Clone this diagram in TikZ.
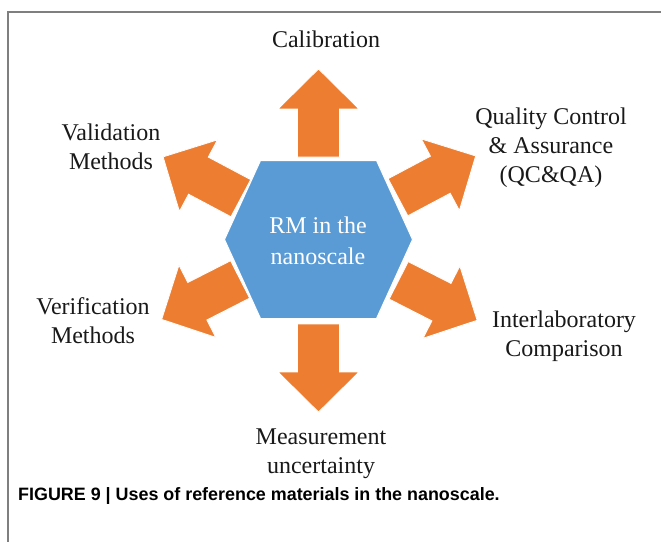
\documentclass[tikz,border=0pt]{standalone}
\usepackage{fontspec}
\usetikzlibrary{calc}
\setmainfont{Liberation Serif}
\newfontfamily\capfont{Liberation Sans}
\definecolor{hexblue}{HTML}{5B9BD5}
\definecolor{arroworange}{HTML}{ED7D31}
\definecolor{framegray}{HTML}{7F7F7F}
\begin{document}
\begin{tikzpicture}[x=1pt,y=1pt,
  blockarrow/.style={fill=arroworange, draw=white, line width=0.8pt, line join=miter},
  hexshape/.style={fill=hexblue, draw=white, line width=1pt, line join=miter},
  lbl/.style={align=center, inner sep=0pt, text=black!90, font=\fontsize{24}{29}\selectfont},
]
\useasboundingbox (0,0) rectangle (661,542);

% frame along the top and left edges
\draw[framegray, line width=1.8pt] (661,530) -- (8,530) -- (8,0);

% central hexagon
\coordinate (c) at (318.5,302.5);
\path[hexshape] ($(c)+(-94,0)$) -- ($(c)+(-58,79)$) -- ($(c)+(58,79)$)
  -- ($(c)+(94,0)$) -- ($(c)+(58,-79)$) -- ($(c)+(-58,-79)$) -- cycle;
\node[lbl, text=white, font=\fontsize{24}{31}\selectfont] (core) at (318,301.5) {RM in the\\nanoscale};

% six block arrows radiating from the hexagon (angle / start radius)
\foreach \ang/\r in {90/82.5, 28/90, -27/90, -90/84.5, 207/88, 152/88} {
  \begin{scope}[shift={(c)}, rotate=\ang]
    \path[blockarrow] (\r,-21) -- (\r+48,-21) -- (\r+48,-40.5) -- (\r+88,0)
      -- (\r+48,40.5) -- (\r+48,21) -- (\r,21) -- cycle;
  \end{scope}
}

% labels
\node[lbl, anchor=base] (calib) at (326,494) {Calibration};
\node[lbl] (valid) at (111,395) {Validation\\Methods};
\node[lbl] (verif) at (93,221) {Verification\\Methods};
\node[lbl] (qcqa) at (551,394.5) {Quality Control\\\& Assurance\\(QC\&QA)};
\node[lbl] (inter) at (564,205.5) {Interlaboratory\\Comparison};
\node[lbl] (meas) at (321,88) {Measurement\\uncertainty};

% caption
\node[anchor=base west, inner sep=0pt, font=\capfont\bfseries\fontsize{17.9}{20}\selectfont] (caption)
  at (18,42) {FIGURE 9 | Uses of reference materials in the nanoscale.};
\end{tikzpicture}
\end{document}
